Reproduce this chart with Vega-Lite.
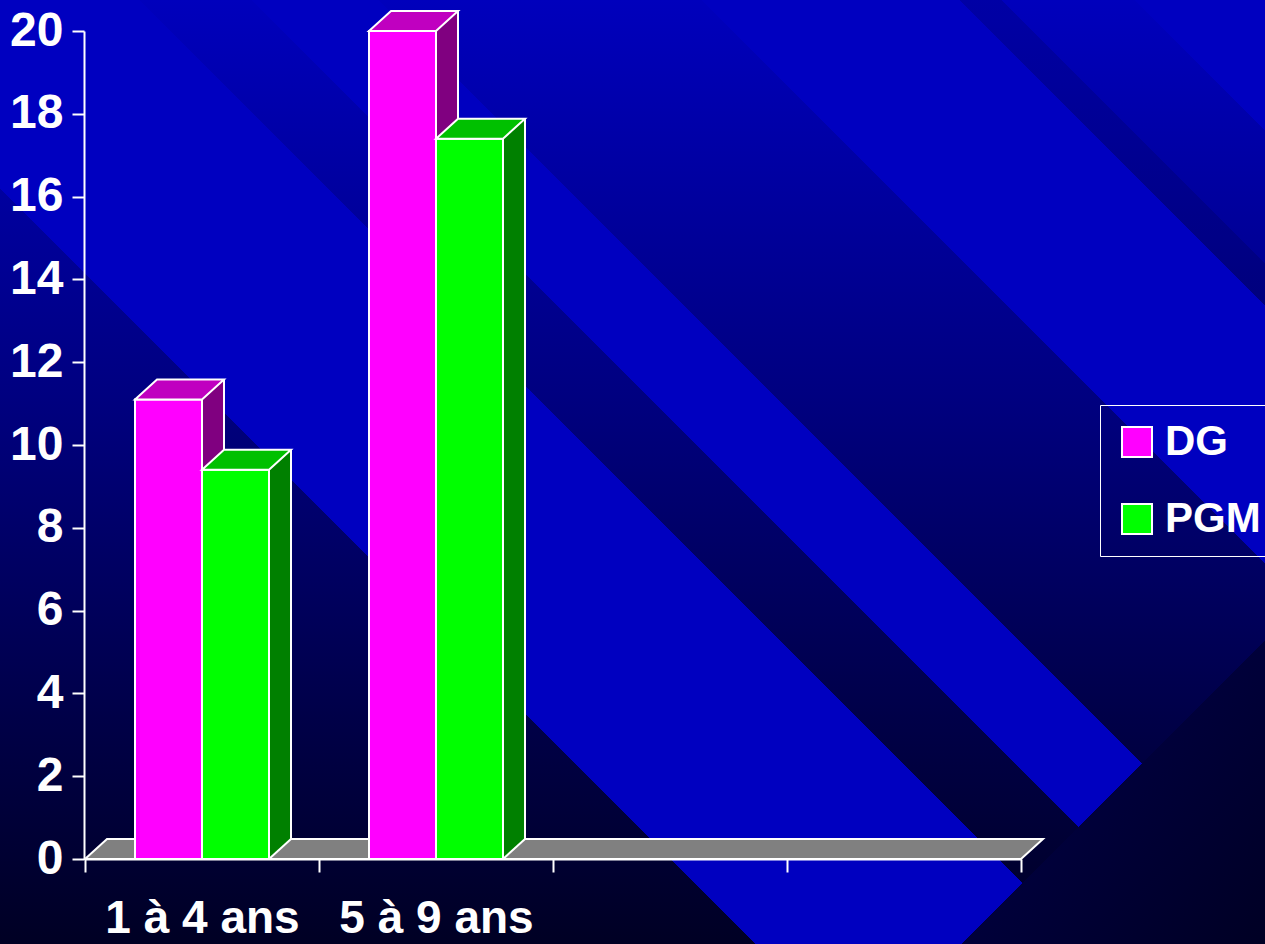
{
  "$schema": "https://vega.github.io/schema/vega-lite/v6.json",
  "width": 1265,
  "height": 944,
  "autosize": {"type": "none"},
  "padding": 0,
  "background": "#000022",
  "config": {"view": {"stroke": null}, "font": "Liberation Sans"},
  "datasets": {
    "bars": [
      {"groupe": "1 à 4 ans", "serie": "DG", "valeur": 11.1},
      {"groupe": "1 à 4 ans", "serie": "PGM", "valeur": 9.4},
      {"groupe": "5 à 9 ans", "serie": "DG", "valeur": 20},
      {"groupe": "5 à 9 ans", "serie": "PGM", "valeur": 17.4}
    ]
  },
  "layer": [
    {
      "data": {"values": [{}]},
      "mark": {"type": "rect", "fill": {"gradient": "linear", "x1": 0, "y1": 0, "x2": 0, "y2": 1, "stops": [
        {"offset": 0, "color": "#0000BC"},
        {"offset": 0.42, "color": "#000080"},
        {"offset": 0.76, "color": "#000048"},
        {"offset": 1, "color": "#000024"}
      ]}},
      "encoding": {}
    },
    {
      "data": {"values": [{}]},
      "mark": {"type": "rect", "fill": {"gradient": "linear", "x1": 1, "y1": 0, "x2": -0.12163, "y2": 0.83701, "stops": [
        {"offset": 0, "color": "#0000C0"},
        {"offset": 0.0593, "color": "#0000C0"},
        {"offset": 0.0593, "color": "rgba(0,0,192,0)"},
        {"offset": 0.1195, "color": "rgba(0,0,192,0)"},
        {"offset": 0.1195, "color": "rgba(0,0,0,0.12)"},
        {"offset": 0.1385, "color": "rgba(0,0,0,0.12)"},
        {"offset": 0.1385, "color": "#0000C0"},
        {"offset": 0.2553, "color": "#0000C0"},
        {"offset": 0.2553, "color": "rgba(0,0,192,0)"},
        {"offset": 0.4015, "color": "rgba(0,0,192,0)"},
        {"offset": 0.4015, "color": "#0000C0"},
        {"offset": 0.4586, "color": "#0000C0"},
        {"offset": 0.4586, "color": "rgba(0,0,192,0)"},
        {"offset": 0.5097, "color": "rgba(0,0,192,0)"},
        {"offset": 0.5097, "color": "#0000C0"},
        {"offset": 0.6578, "color": "#0000C0"},
        {"offset": 0.6578, "color": "rgba(0,0,192,0)"},
        {"offset": 1, "color": "rgba(0,0,192,0)"}
      ]}},
      "encoding": {}
    },
    {
      "data": {"values": [{}]},
      "mark": {"type": "rect", "fill": {"gradient": "linear", "x1": 0, "y1": 0, "x2": 1.12163, "y2": 0.83701, "stops": [
        {"offset": 0, "color": "rgba(0,0,58,0)"},
        {"offset": 0.8624, "color": "rgba(0,0,58,0)"},
        {"offset": 0.8624, "color": "#00003A"},
        {"offset": 1, "color": "#000024"}
      ]}},
      "encoding": {}
    },
    {
      "data": {"values": [{}]},
      "mark": {"type": "point", "shape": "M -117 0 L 819 0 L 841 -20 L -95 -20 Z", "size": 4, "filled": true, "fill": "#808080", "stroke": "white", "strokeWidth": 2, "opacity": 1, "fillOpacity": 1, "strokeOpacity": 1},
      "encoding": {
        "x": {
          "datum": "1 à 4 ans", "type": "nominal", "title": null,
          "scale": {"domain": ["1 à 4 ans", "5 à 9 ans", "_c", "_d"], "range": [85, 1021], "paddingInner": 0, "paddingOuter": 0},
          "axis": {
            "title": null, "orient": "bottom", "offset": -85, "zindex": 1,
            "domainColor": "white", "domainWidth": 2,
            "tickColor": "white", "tickWidth": 2, "tickSize": 13, "tickBand": "extent",
            "labelAngle": 0, "labelFontSize": 46, "labelFont": "Liberation Sans", "labelFontWeight": "bold",
            "labelColor": "white", "labelPadding": 24, "labelLimit": 0, "labelOverlap": false,
            "labelExpr": "indexof(datum.label, '_') === 0 ? '' : datum.label",
            "grid": false
          }
        },
        "y": {
          "datum": 0, "type": "quantitative", "title": null,
          "scale": {"domain": [0, 20], "range": [859, 31], "nice": false, "zero": true},
          "axis": {
            "title": null, "orient": "left", "offset": -84, "zindex": 1,
            "values": [0, 2, 4, 6, 8, 10, 12, 14, 16, 18, 20],
            "domainColor": "white", "domainWidth": 2,
            "tickColor": "white", "tickWidth": 2, "tickSize": 12,
            "labelFontSize": 48, "labelFont": "Liberation Sans", "labelFontWeight": "bold",
            "labelColor": "white", "labelPadding": 9, "labelOverlap": false, "labelBound": false, "labelFlush": false,
            "grid": false
          }
        }
      }
    },
    {
      "data": {"name": "bars"},
      "transform": [{"filter": "datum.serie === 'DG'"}],
      "mark": {"type": "bar", "width": 22, "xOffset": 11, "yOffset": -20, "y2Offset": -20, "fill": "#800080", "strokeWidth": 0},
      "encoding": {
        "x": {"field": "groupe", "type": "nominal", "title": null},
        "y": {"field": "valeur", "type": "quantitative", "title": null},
        "y2": {"datum": 0}
      }
    },
    {
      "data": {"name": "bars"},
      "transform": [{"filter": "datum.serie === 'PGM'"}],
      "mark": {"type": "bar", "width": 22, "xOffset": 78, "yOffset": -20, "y2Offset": -20, "fill": "#008000", "strokeWidth": 0},
      "encoding": {
        "x": {"field": "groupe", "type": "nominal", "title": null},
        "y": {"field": "valeur", "type": "quantitative", "title": null},
        "y2": {"datum": 0}
      }
    },
    {
      "data": {"name": "bars"},
      "mark": {"type": "point", "shape": "M 33.5 0 L 33.5 -20 L 55.5 -20 Z", "size": 4, "filled": true, "strokeWidth": 0, "opacity": 1, "fillOpacity": 1},
      "encoding": {
        "x": {"field": "groupe", "type": "nominal", "title": null},
        "xOffset": {"field": "serie", "type": "nominal"},
        "y": {"datum": 0, "type": "quantitative", "title": null},
        "fill": {"condition": {"test": "datum.serie === 'DG'", "value": "#800080"}, "value": "#008000"}
      }
    },
    {
      "data": {"name": "bars"},
      "transform": [{"filter": "datum.serie === 'DG'"}],
      "mark": {"type": "bar", "width": 2, "xOffset": 22, "yOffset": -20, "y2Offset": -20, "fill": "white", "strokeWidth": 0},
      "encoding": {
        "x": {"field": "groupe", "type": "nominal", "title": null},
        "y": {"field": "valeur", "type": "quantitative", "title": null},
        "y2": {"datum": 0}
      }
    },
    {
      "data": {"name": "bars"},
      "transform": [{"filter": "datum.serie === 'PGM'"}],
      "mark": {"type": "bar", "width": 2, "xOffset": 89, "yOffset": -20, "y2Offset": -20, "fill": "white", "strokeWidth": 0},
      "encoding": {
        "x": {"field": "groupe", "type": "nominal", "title": null},
        "y": {"field": "valeur", "type": "quantitative", "title": null},
        "y2": {"datum": 0}
      }
    },
    {
      "data": {"name": "bars"},
      "mark": {"type": "point", "shape": "M 33.5 0 L 55.5 -20", "size": 4, "filled": false, "stroke": "white", "strokeWidth": 2, "opacity": 1, "strokeOpacity": 1},
      "encoding": {
        "x": {"field": "groupe", "type": "nominal", "title": null},
        "xOffset": {"field": "serie", "type": "nominal"},
        "y": {"datum": 0, "type": "quantitative", "title": null}
      }
    },
    {
      "data": {"name": "bars"},
      "mark": {"type": "bar", "stroke": "white", "strokeWidth": 2, "opacity": 1},
      "encoding": {
        "x": {"field": "groupe", "type": "nominal", "title": null},
        "xOffset": {"field": "serie", "type": "nominal", "scale": {"domain": ["DG", "PGM"], "paddingInner": 0, "paddingOuter": 0.7463}},
        "y": {"field": "valeur", "type": "quantitative", "title": null},
        "color": {
          "field": "serie", "type": "nominal",
          "scale": {"domain": ["DG", "PGM"], "range": ["#FF00FF", "#00FF00"]},
          "legend": {
            "orient": "none", "legendX": 1100, "legendY": 405, "title": null,
            "symbolType": "square", "symbolSize": 900, "symbolStrokeColor": "white", "symbolStrokeWidth": 2, "symbolOpacity": 1,
            "labelFontSize": 42, "labelFont": "Liberation Sans", "labelFontWeight": "bold", "labelColor": "white",
            "labelOffset": 7, "labelLimit": 0,
            "strokeColor": "white", "padding": 16, "rowPadding": 35
          }
        }
      }
    },
    {
      "data": {"name": "bars"},
      "mark": {"type": "point", "shape": "M -33.5 0 L 33.5 0 L 55.5 -20 L -11.5 -20 Z", "size": 4, "filled": true, "stroke": "white", "strokeWidth": 2, "opacity": 1, "fillOpacity": 1, "strokeOpacity": 1},
      "encoding": {
        "x": {"field": "groupe", "type": "nominal", "title": null},
        "xOffset": {"field": "serie", "type": "nominal"},
        "y": {"field": "valeur", "type": "quantitative", "title": null},
        "fill": {"condition": {"test": "datum.serie === 'DG'", "value": "#C000C0"}, "value": "#00C000"}
      }
    }
  ]
}
